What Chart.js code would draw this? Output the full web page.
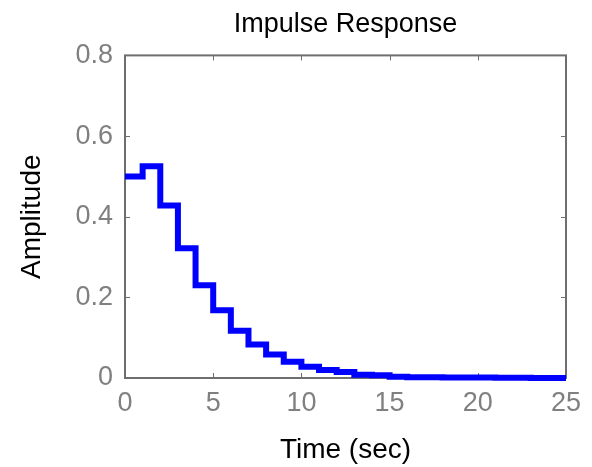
<!DOCTYPE html>
<html>
<head>
<meta charset="utf-8">
<script src="https://cdn.jsdelivr.net/npm/chart.js@4/dist/chart.umd.min.js"></script>
<style>
  html, body { margin: 0; padding: 0; background: #ffffff; }
  #wrap { width: 592px; height: 467px; }
</style>
</head>
<body>
<div id="wrap"><canvas id="c" width="592" height="467"></canvas></div>
<script>
// ---- data ----
const chartTitle = "Impulse Response";
const xTitle = "Time (sec)";
const yTitle = "Amplitude";
const timeSec = [0, 1, 2, 3, 4, 5, 6, 7, 8, 9, 10, 11, 12, 13, 14, 15, 16, 17, 18, 19, 20, 21, 22, 23, 24, 25];
const amplitude = [0.500, 0.525, 0.428, 0.322, 0.230, 0.168, 0.117, 0.083, 0.058, 0.040, 0.028, 0.020, 0.015, 0.008, 0.007, 0.003, 0.002, 0.002, 0.001, 0.001, 0.001, 0.0005, 0.0005, 0.0003, 0.0003, 0.0003];
const xTickValues = [0, 5, 10, 15, 20, 25];
const yTickValues = [0, 0.2, 0.4, 0.6, 0.8];

const points = timeSec.map((t, i) => ({ x: t, y: amplitude[i] }));

const FONT = "'Liberation Sans', Arial, Helvetica, sans-serif";
const AXIS_COLOR = '#6e6e6e';

// MATLAB-style box with inward tick marks on all four sides
const framePlugin = {
  id: 'matlabFrame',
  beforeDatasetsDraw(chart) {
    const { ctx, chartArea: a, scales } = chart;
    ctx.save();
    ctx.strokeStyle = AXIS_COLOR;
    ctx.lineWidth = 1;
    const tl = 5;
    ctx.beginPath();
    xTickValues.forEach(v => {
      const x = Math.round(scales.x.getPixelForValue(v)) + 0.5;
      ctx.moveTo(x, a.bottom); ctx.lineTo(x, a.bottom - tl);
      ctx.moveTo(x, a.top); ctx.lineTo(x, a.top + tl);
    });
    yTickValues.forEach(v => {
      const y = Math.round(scales.y.getPixelForValue(v)) + 0.5;
      ctx.moveTo(a.left, y); ctx.lineTo(a.left + tl, y);
      ctx.moveTo(a.right, y); ctx.lineTo(a.right - tl, y);
    });
    ctx.stroke();
    ctx.lineWidth = 2;
    ctx.strokeRect(a.left, a.top, a.right - a.left, a.bottom - a.top);
    ctx.restore();
  }
};

new Chart(document.getElementById('c'), {
  type: 'line',
  data: {
    datasets: [{
      data: points,
      stepped: 'before',
      borderColor: '#0000ff',
      borderWidth: 6,
      pointRadius: 0,
      fill: false,
      clip: false,
      borderCapStyle: 'butt',
      borderJoinStyle: 'miter'
    }]
  },
  options: {
    responsive: false,
    animation: false,
    devicePixelRatio: 1,
    layout: { padding: { left: 0, right: 26, top: 0, bottom: 0 } },
    plugins: {
      legend: { display: false },
      tooltip: { enabled: false },
      title: {
        display: true,
        text: chartTitle,
        fullSize: false,
        color: '#000000',
        font: { family: FONT, size: 27, weight: 'normal' },
        padding: { top: 8, bottom: 15 }
      }
    },
    scales: {
      x: {
        type: 'linear',
        min: 0,
        max: 25,
        afterFit(scale) { scale.height = 89; },
        afterBuildTicks(scale) { scale.ticks = xTickValues.map(v => ({ value: v })); },
        grid: { display: false, drawTicks: false },
        border: { display: false },
        ticks: {
          color: '#808080',
          padding: 9,
          maxRotation: 0,
          font: { family: FONT, size: 27 }
        },
        title: {
          display: true,
          text: xTitle,
          color: '#000000',
          font: { family: FONT, size: 28 },
          padding: { top: 0, bottom: 0 }
        }
      },
      y: {
        type: 'linear',
        min: 0,
        max: 0.8,
        afterFit(scale) { scale.width = 125; },
        afterBuildTicks(scale) { scale.ticks = yTickValues.map(v => ({ value: v })); },
        grid: { display: false, drawTicks: false },
        border: { display: false },
        ticks: {
          color: '#808080',
          padding: 12,
          font: { family: FONT, size: 27 },
          callback: (v) => String(v)
        },
        title: {
          display: true,
          text: yTitle,
          color: '#000000',
          font: { family: FONT, size: 28 },
          padding: { top: 15, bottom: 0 }
        }
      }
    }
  },
  plugins: [framePlugin]
});
</script>
</body>
</html>
